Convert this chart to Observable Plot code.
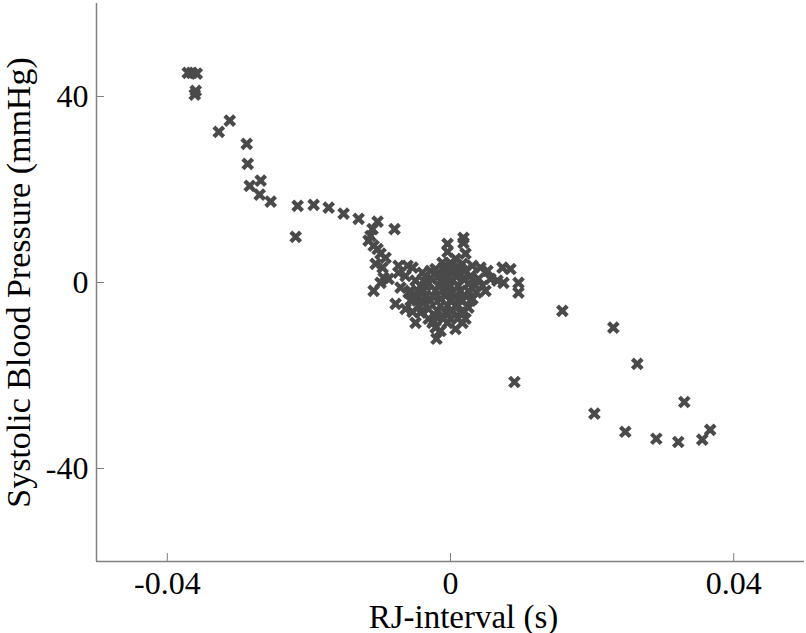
<!DOCTYPE html>
<html>
<head>
<meta charset="utf-8">
<script src="https://cdn.jsdelivr.net/npm/d3@7"></script>
<script src="https://cdn.jsdelivr.net/npm/@observablehq/plot@0.6"></script>
<style>
  html, body { margin: 0; padding: 0; background: #fff; }
  #chart svg { display: block; overflow: visible; }
</style>
</head>
<body>
<div id="chart"></div>
<script>
// RJ-interval deviation (s)
const rjInterval = [
  -0.03711, -0.03654, -0.03584, -0.03598, -0.03612, -0.03273, -0.03118, -0.02878, -0.02864, -0.02836,
  -0.02681, -0.02695, -0.0254, -0.02159, -0.02187, -0.01933, -0.01721, -0.0151, -0.01298, -0.0103,
  -0.0079, -0.01101, -0.01129, -0.01157, -0.01086, -0.0103, -0.00988, -0.00917, -0.01058, -0.00959,
  -0.00734, -0.00607, -0.00536, -0.00734, -0.00635, -0.00945, -0.00875, -0.00988, -0.00706, -0.00593,
  -0.00466, -0.01086, -0.00776, -0.00635, -0.00536, -0.00494, -0.00198, -0.00395, -0.00282, -0.00353,
  -0.00212, -0.00099, -0.00381, -0.0031, -0.00212, -0.00254, -0.00042, -0.00042, 0.00183, 0.00183,
  0.00212, 0.00169, -0.00282, -0.00071, 0.00113, 0.0031, 0.00423, 0.00522, 0.00734, 0.00847,
  0.00663, 0.00748, 0.0096, 0.0096, 0.00395, 0.00452, 0.00254, 0.0031, 0.00254, 0.00183,
  0.00212, 0.00099, -0.00212, -0.0024, 0.00564, 0.00494, -0.00141, 0.0, 0.00071, -0.00071,
  0.00141, -0.00212, 0.0, -0.00141, 0.00071, -0.00071, -0.00282, -0.00423, -0.00028, -0.00169,
  -0.00353, -0.00494, 0.00028, -0.00099, 0.00113, -0.00042, -0.00141, 0.00071, 0.00169, -0.0031,
  -0.00452, 0.00282, 0.00353, 0.00212, 0.0, 0.00071, 0.00141, -0.00353, -0.00564, -0.00564,
  -0.00071, 0.00028, -0.00169, 0.00113, -0.00028, -0.00141, 0.00071, 0.00169, -0.00254, -0.00042,
  0.00028, -0.00183, -0.00099, 0.0, -0.00381, -0.00466, -0.0031, 0.00183, 0.00254, 0.00071,
  -0.00113, -0.00522, -0.00423, 0.00282, 0.00367,
  0.0158, 0.023, 0.02638, 0.00903, 0.02032, 0.03302, 0.02469, 0.02907, 0.03217, 0.03556, 0.03668
];
// Systolic blood pressure deviation (mmHg)
const sbp = [
  45.1, 45.1, 44.9, 41.2, 40.4, 32.4, 34.8, 29.8, 25.5, 20.8,
  21.9, 18.9, 17.4, 16.5, 9.8, 16.7, 16.1, 14.8, 13.7, 13.1,
  11.5, 11.5, 10.0, 9.0, 7.9, 7.2, 6.2, 5.3, 4.0, 3.2,
  3.6, 3.6, 3.2, 2.1, 1.4, 1.0, 0.8, -0.1, -1.1, -2.2,
  -3.3, -1.8, -4.6, -5.7, -6.3, -8.7, -12.1, 2.1, 1.0, -0.7,
  2.9, 3.2, -4.4, -5.7, -7.2, -8.7, 8.3, 6.6, 9.6, 8.5,
  6.2, 4.0, 2.5, 2.5, 3.2, 3.6, 3.2, 2.5, 3.2, 2.9,
  0.4, -0.1, -0.1, -2.2, 0.8, -0.7, -1.8, -3.5, -5.4, -6.1,
  -7.8, -7.8, -9.7, -8.2, 0.8, -1.8, 0.4, -0.7, 1.4, -2.9,
  -1.8, -1.8, -3.9, -5.0, -5.0, -6.5, -3.9, -0.7, 2.5, 1.4,
  -2.9, 0.4, -2.2, -1.4, -3.5, -8.7, -10.4, -10.0, -8.7, -7.8,
  -5.0, 1.4, -0.7, 2.5, 4.2, 5.1, -6.5, 1.4, -1.8, -3.9,
  0.8, 0.4, -0.7, -0.7, -2.2, -3.5, -2.9, -3.9, -2.9, -5.0,
  -6.1, -6.1, -7.8, -7.8, -1.8, -1.8, -0.1, 0.8, -0.3, 2.9,
  4.2, -3.5, -6.5, -3.9, -2.2,
  -6.1, -9.7, -17.5, -21.4, -28.2, -25.7, -32.1, -33.6, -34.3, -33.8, -31.7
];
const xTicks = [-0.04, 0, 0.04];
const yTicks = [-40, 0, 40];
const xDomain = [-0.05, 0.05];
const yDomain = [-60, 60];
const xLabel = "RJ-interval (s)";
const yLabel = "Systolic Blood Pressure (mmHg)";

const points = rjInterval.map((x, i) => ({x, y: sbp[i]}));
const fmt = d => d === 0 ? "0" : String(d);
const axisColor = "#808080";
const font = "Liberation Serif, Times New Roman, serif";

const chart = Plot.plot({
  width: 806,
  height: 633,
  marginLeft: 96,
  marginRight: 2,
  marginTop: 3,
  marginBottom: 72,
  style: {fontFamily: font, background: "#fff", color: "#000"},
  x: {domain: xDomain},
  y: {domain: yDomain},
  marks: [
    Plot.ruleX([xDomain[0]], {stroke: axisColor, strokeWidth: 1.5}),
    Plot.ruleY([yDomain[0]], {stroke: axisColor, strokeWidth: 1.5}),
    Plot.axisX({ticks: xTicks, tickFormat: fmt, tickSize: 8, dy: -8, tickPadding: 10,
      stroke: axisColor, fontSize: 32, label: null, fill: "#000"}),
    Plot.axisY({ticks: yTicks, tickFormat: fmt, tickSize: 8, dx: 8, tickPadding: 8,
      stroke: axisColor, fontSize: 32, label: null, fill: "#000"}),
    Plot.text([xLabel], {frameAnchor: "bottom", lineAnchor: "bottom", textAnchor: "middle", dy: 66, dx: 13,
      fontSize: 33, fill: "#000"}),
    Plot.text([yLabel], {frameAnchor: "left", lineAnchor: "bottom", textAnchor: "middle", rotate: -90, dx: -67,
      fontSize: 34, fill: "#000"}),
    Plot.dot(points, {x: "x", y: "y", symbol: "times", r: 4.5, stroke: "#4a4a4a", strokeWidth: 4.2})
  ]
});
document.getElementById("chart").appendChild(chart);
</script>
</body>
</html>
